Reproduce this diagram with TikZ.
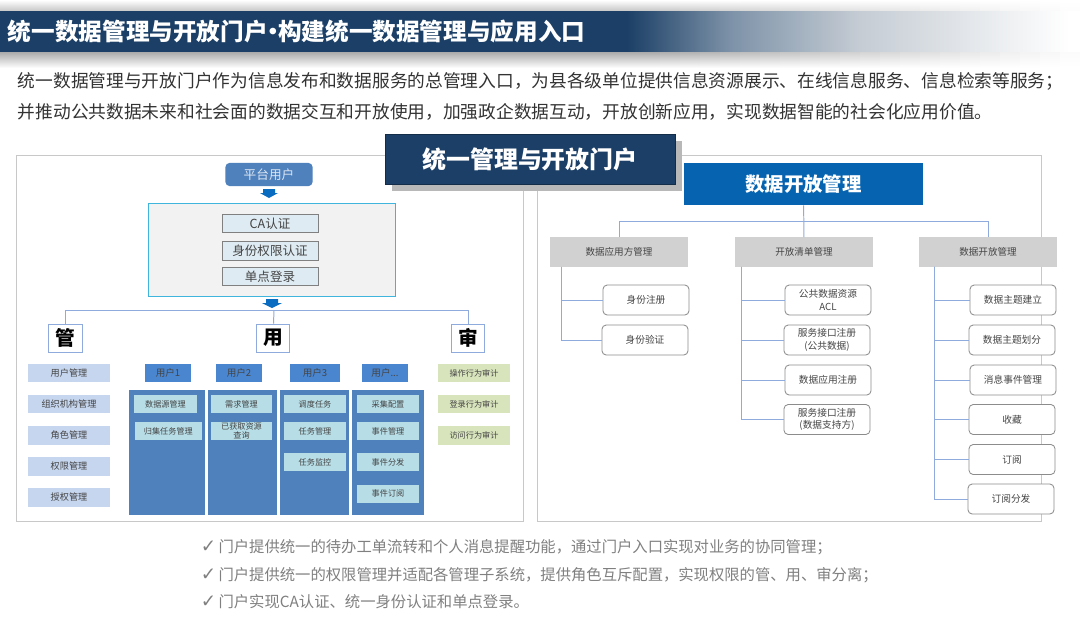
\documentclass[tikz,border=0pt]{standalone}
\usepackage{fontspec}
\setmainfont{Noto Sans CJK SC}
\newfontfamily\tickfont{DejaVu Sans}
\usepackage{tikz}
\usetikzlibrary{shapes, backgrounds, calc}

\definecolor{navybar}{HTML}{1B3F66}
\definecolor{barmid}{HTML}{7D92A8}
\definecolor{barlight}{HTML}{C5CCD4}
\definecolor{linkblue}{HTML}{8FAADC}
\definecolor{userblue}{HTML}{4F81BD}
\definecolor{tabblue}{HTML}{4A86D0}
\definecolor{headblue}{HTML}{0563B0}
\definecolor{markblue}{HTML}{0A6CC0}
\definecolor{authfill}{HTML}{DEEBF2}
\definecolor{framecyan}{HTML}{3FB4DC}
\definecolor{pagegray}{HTML}{C8C8C8}
\definecolor{txtgray}{HTML}{444444}
\definecolor{manfill}{HTML}{C6D6EE}
\definecolor{cellfill}{HTML}{B7DDE6}
\definecolor{audfill}{HTML}{D8E4BC}

\pgfdeclarehorizontalshading{barshade}{100bp}{color(0bp)=(navybar); color(54bp)=(navybar); color(58.8bp)=(barmid); color(64.8bp)=(barlight); color(74.5bp)=(white); color(100bp)=(white)}

\tikzset{
	panel/.style={draw=pagegray, line width=0.6pt, fill=white},
	authbox/.style={draw=gray, fill=authfill, line width=0.4pt, minimum width=2.41cm, minimum height=0.46cm, inner sep=0pt, font=\fontsize{8.9}{10}\selectfont, text=txtgray},
	gatebox/.style={draw=linkblue, fill=white, line width=0.6pt, minimum width=0.83cm, minimum height=0.7cm, inner sep=0pt, font=\fontsize{14}{14}\bfseries\selectfont},
	manbox/.style={fill=manfill, minimum width=2.03cm, minimum height=0.46cm, inner sep=0pt, font=\fontsize{6.5}{7}\selectfont, text=txtgray},
	usertab/.style={fill=tabblue, minimum height=0.44cm, inner sep=0pt, font=\fontsize{6.8}{7}\selectfont, text=txtgray},
	usercell/.style={fill=cellfill, minimum height=0.46cm, inner sep=0pt, align=center, font=\fontsize{5.8}{6.3}\selectfont, text=txtgray},
	audbox/.style={fill=audfill, minimum width=1.78cm, minimum height=0.46cm, inner sep=0pt, font=\fontsize{5.8}{7}\selectfont, text=txtgray},
	grouphead/.style={fill=black!18, minimum width=3.43cm, minimum height=0.73cm, inner sep=0pt, font=\fontsize{6.8}{8}\selectfont, text=txtgray},
	itembox/.style={draw=black!45, fill=white, rounded corners=3pt, line width=0.6pt, minimum width=2.15cm, minimum height=0.75cm, inner sep=0pt, align=center, font=\fontsize{6.9}{8.8}\selectfont, text=txtgray},
	link/.style={draw=linkblue, line width=0.7pt},
	downmark/.style={fill=markblue, draw=none},
	bodyline/.style={anchor=west, font=\fontsize{12.6}{13}\selectfont, text=black!80},
	tickline/.style={anchor=west, font=\fontsize{10.9}{12}\selectfont, text=black!50}
}

\begin{document}
\begin{tikzpicture}[x=0.025cm, y=-0.025cm]
	\useasboundingbox (0, 0) rectangle (1080, 618);
	\fill[white] (0, 0) rectangle (1080, 618);

	% title bar
	\fill[top color=white, bottom color=black!22] (0, 0) rectangle (640, 11);
	\fill[top color=black!35, bottom color=white] (0, 51) rectangle (640, 68);
	\foreach \x [evaluate=\x as \lev using 22*(1080-\x)/440, evaluate=\x as \levb using 35*(1080-\x)/440] in {640, 660, ..., 1060} {
		\fill[top color=white, bottom color=black!\lev] (\x, 0) rectangle (\x+20.5, 11);
		\fill[top color=black!\levb, bottom color=white] (\x, 51) rectangle (\x+20.5, 68);
	}
	\fill[shading=barshade] (0, 11) rectangle (1080, 51);
	\node[anchor=west, text=white, font=\fontsize{16.8}{18}\bfseries\selectfont] (title) at (3, 31) {统一数据管理与开放门户\hspace{-0.28em}·\hspace{-0.28em}构建统一数据管理与应用入口};

	% intro
	\node[bodyline] (introa) at (13, 81) {统一数据管理与开放门户作为信息发布和数据服务的总管理入口，为县各级单位提供信息资源展示、在线信息服务、信息检索等服务；};
	\node[bodyline] (introb) at (13, 112) {并推动公共数据未来和社会面的数据交互和开放使用，加强政企数据互动，开放创新应用，实现数据智能的社会化应用价值。};

	% panels
	\draw[panel] (16, 155) rectangle (523, 521);
	\draw[panel] (537, 155) rectangle (1041, 521);

	% left panel, top
	\node[fill=userblue, rounded corners=3pt, minimum width=2.18cm, minimum height=0.58cm, inner sep=0pt, text=white!80!userblue, font=\fontsize{9}{10}\selectfont] (portaluser) at (269, 174.5) {平台用户};
	\fill[downmark] (263, 189) -- (275, 189) -- (275, 193) -- (278, 193) -- (269, 198) -- (260, 193) -- (263, 193) -- cycle;
	\node[draw=framecyan, line width=0.8pt, fill=black!5, minimum width=6.18cm, minimum height=2.33cm, inner sep=0pt] (authframe) at (272, 250) {};
	\node[authbox] (auth) at (270, 223.5) {CA认证};
	\node[authbox] (identity) at (270, 250.7) {身份权限认证};
	\node[authbox] (sso) at (270, 276.5) {单点登录};
	\fill[downmark] (266, 299) -- (278, 299) -- (278, 303) -- (282, 303) -- (272, 308) -- (262, 303) -- (266, 303) -- cycle;

	% branches
	\coordinate (split) at (274, 310);
	\node[gatebox] (guan) at (65.5, 338) {管};
	\node[gatebox] (yong) at (273, 338) {用};
	\node[gatebox] (shen) at (468, 338) {审};
	\draw[link] (split) -| (guan);
	\draw[link] (split) -| (shen);
	\draw[link] (split) -- (yong);

	% left column
	\node[manbox] (mana) at (69, 373) {用户管理};
	\node[manbox] (manb) at (69, 404) {组织机构管理};
	\node[manbox] (manc) at (69, 435.5) {角色管理};
	\node[manbox] (mand) at (69, 466.5) {权限管理};
	\node[manbox] (mane) at (69, 497.5) {授权管理};

	% user tabs and columns
	\node[usertab, minimum width=1.13cm] (usera) at (168, 373) {用户1};
	\node[usertab, minimum width=1.13cm] (userb) at (239, 373) {用户2};
	\node[usertab, minimum width=1.25cm] (userc) at (315, 373) {用户3};
	\node[usertab, minimum width=1.13cm] (userd) at (385, 373) {用户...};
	\fill[userblue] (129, 390) rectangle (205, 515);
	\fill[userblue] (208, 390) rectangle (277, 515);
	\fill[userblue] (280, 390) rectangle (349, 515);
	\fill[userblue] (352, 390) rectangle (423.5, 515);

	\node[usercell, minimum width=1.55cm] (cellaa) at (165.5, 404) {数据源管理};
	\node[usercell, minimum width=1.69cm] (cellab) at (168.4, 431) {归集任务管理};
	\node[usercell, minimum width=1.53cm] (cellba) at (241.5, 404) {需求管理};
	\node[usercell, minimum width=1.53cm] (cellbb) at (241.5, 431) {已获取资源\\查询};
	\node[usercell, minimum width=1.53cm] (cellca) at (315, 404) {调度任务};
	\node[usercell, minimum width=1.53cm] (cellcb) at (315, 431) {任务管理};
	\node[usercell, minimum width=1.53cm] (cellcc) at (315, 462) {任务监控};
	\node[usercell, minimum width=1.55cm] (cellda) at (388, 404) {采集配置};
	\node[usercell, minimum width=1.55cm] (celldb) at (388, 431) {事件管理};
	\node[usercell, minimum width=1.55cm] (celldc) at (388, 462) {事件分发};
	\node[usercell, minimum width=1.55cm] (celldd) at (388, 493.7) {事件订阅};

	% audit column
	\node[audbox] (auda) at (474, 373) {操作行为审计};
	\node[audbox] (audb) at (474, 404) {登录行为审计};
	\node[audbox] (audc) at (474, 435.5) {访问行为审计};

	% centre banner
	\fill[black!28] (392, 141) rectangle (682, 191);
	\node[fill=navybar, draw=navybar!70!black, minimum width=7.25cm, minimum height=1.25cm, inner sep=0pt, text=white, font=\fontsize{17}{18}\bfseries\selectfont] (banner) at (530, 159) {统一管理与开放门户};

	% right panel
	\node[fill=headblue, minimum width=5.98cm, minimum height=1.05cm, inner sep=0pt, text=white, font=\fontsize{13.8}{15}\bfseries\selectfont] (openhead) at (803.5, 184) {数据开放管理};
	\node[grouphead] (groupa) at (619, 252) {数据应用方管理};
	\node[grouphead] (groupb) at (804, 252) {开放清单管理};
	\node[grouphead] (groupc) at (988, 252) {数据开放管理};
	\coordinate (rsplit) at (804, 221);
	\draw[link] (openhead) -- (groupb);
	\draw[link] (rsplit) -| (groupa);
	\draw[link] (rsplit) -| (groupc);

	\node[itembox] (itemaa) at (646, 300) {身份注册};
	\node[itembox] (itemab) at (645, 340) {身份验证};

	\node[itembox] (itemba) at (828, 300) {公共数据资源\\ACL};
	\node[itembox] (itembb) at (827, 340) {服务接口注册\\(公共数据)};
	\node[itembox] (itembc) at (828, 380) {数据应用注册};
	\node[itembox] (itembd) at (827, 419.5) {服务接口注册\\(数据支持方)};

	\node[itembox] (itemca) at (1013, 300) {数据主题建立};
	\node[itembox] (itemcb) at (1012, 340) {数据主题划分};
	\node[itembox] (itemcc) at (1013, 380) {消息事件管理};
	\node[itembox] (itemcd) at (1012, 419.5) {收藏};
	\node[itembox] (itemce) at (1012, 459.5) {订阅};
	\node[itembox] (itemcf) at (1011, 499) {订阅分发};

	\coordinate (stema) at (561, 266.5);
	\coordinate (stemb) at (741, 266.5);
	\coordinate (stemc) at (934, 266.5);
	\foreach \i in {itemaa, itemab}
		\draw[link] (stema) |- (\i);
	\foreach \i in {itemba, itembb, itembc, itembd}
		\draw[link] (stemb) |- (\i);
	\foreach \i in {itemca, itemcb, itemcc, itemcd, itemce, itemcf}
		\draw[link] (stemc) |- (\i);

	% closing notes
	\node[tickline] (notea) at (196, 547) {{\tickfont\fontsize{13}{13}\selectfont ✓}\hspace{0.15em}门户提供统一的待办工单流转和个人消息提醒功能，通过门户入口实现对业务的协同管理；};
	\node[tickline] (noteb) at (196, 575) {{\tickfont\fontsize{13}{13}\selectfont ✓}\hspace{0.15em}门户提供统一的权限管理并适配各管理子系统，提供角色互斥配置，实现权限的管、用、审分离；};
	\node[tickline] (notec) at (196, 602) {{\tickfont\fontsize{13}{13}\selectfont ✓}\hspace{0.15em}门户实现CA认证、统一身份认证和单点登录。};
\end{tikzpicture}
\end{document}
